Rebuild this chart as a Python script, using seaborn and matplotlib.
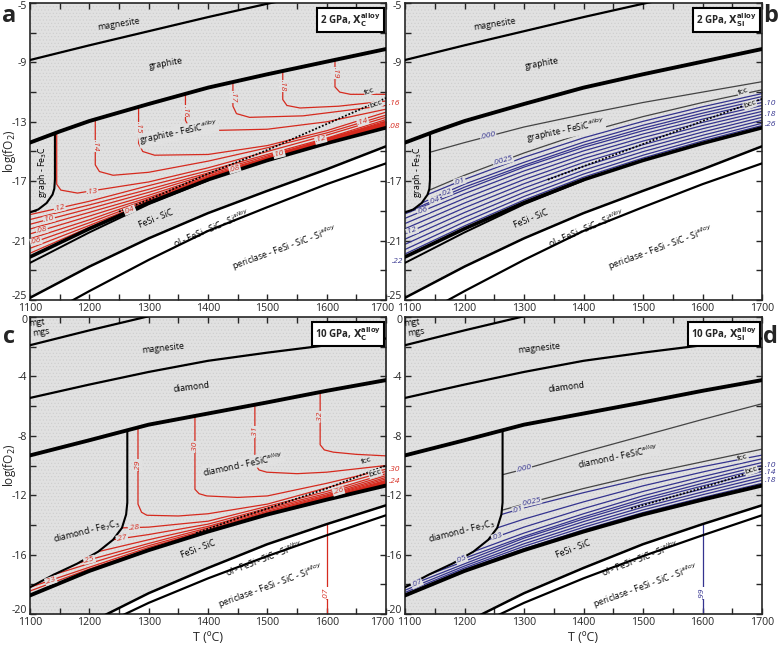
import matplotlib
matplotlib.use('Agg')
import matplotlib.pyplot as plt
import matplotlib.transforms as mtrans
import seaborn as sns

# ------------------------------------------------------------------ data
T7 = [1100, 1200, 1300, 1400, 1500, 1600, 1700]

# ---- 2 GPa phase boundaries (panels a, b)
p2_mgs = [-8.84, -7.85, -6.9, -5.95, -5.05, -4.2, -3.4]
p2_gr_T = [1100, 1150, 1200, 1300, 1400, 1500, 1600, 1700]
p2_gr = [-14.4, -13.65, -12.95, -11.8, -10.7, -9.8, -8.95, -8.1]
p2_fesi = [-22.1, -20.2, -18.45, -16.9, -15.6, -14.45, -13.4]
p2_fesi2_T = [1100, 1200, 1300, 1400]
p2_fesi2 = [-22.5, -20.45, -18.55, -16.95]
p2_ol = [-24.85, -22.75, -20.85, -19.15, -17.65, -16.2, -14.65]
p2_per = [-26.6, -24.4, -22.3, -20.35, -18.75, -17.2, -15.8]
p2_fe3c_T = [1142, 1142, 1141, 1138, 1128, 1114, 1100]
p2_fe3c = [-13.75, -16.9, -17.5, -17.9, -18.47, -18.9, -19.1]

# ---- panel a: X_C alloy contours (red)
a13_T = [1145, 1145, 1152, 1180, 1300, 1400, 1500, 1600, 1700]
a13 = [-13.72, -17.2, -17.6, -17.8, -17.05, -16.1, -15.0, -13.9, -12.7]
a14_T = [1210, 1210, 1217, 1240, 1300, 1400, 1500, 1600, 1700]
a14 = [-12.83, -15.9, -16.35, -16.6, -16.4, -15.65, -14.75, -13.75, -12.55]
a15_T = [1283, 1283, 1290, 1310, 1400, 1500, 1600, 1700]
a15 = [-11.99, -14.45, -15.0, -15.25, -15.2, -14.6, -13.6, -12.35]
a16_T = [1362, 1362, 1368, 1390, 1500, 1600, 1700]
a16 = [-11.12, -12.9, -13.35, -13.6, -13.5, -13.0, -12.15]
a17_T = [1442, 1442, 1448, 1470, 1560, 1700]
a17 = [-10.32, -11.95, -12.45, -12.7, -12.6, -11.9]
a18_T = [1526, 1526, 1533, 1555, 1620, 1700]
a18 = [-9.58, -11.5, -11.9, -12.07, -11.95, -11.6]
a19_T = [1614, 1614, 1622, 1640, 1700]
a19 = [-8.83, -10.65, -11.0, -11.15, -11.15]
a12 = [-19.25, -18.35, -17.3, -16.3, -15.2, -14.1, -12.85]
a11 = [-19.58, -18.6, -17.55, -16.45, -15.3, -14.18, -12.95]
a10 = [-19.9, -18.85, -17.75, -16.55, -15.4, -14.25, -13.05]
a09 = [-20.22, -19.1, -17.95, -16.65, -15.45, -14.3, -13.12]
a08 = [-20.55, -19.35, -18.1, -16.72, -15.5, -14.35, -13.2]
a07 = [-20.88, -19.6, -18.2, -16.78, -15.53, -14.38, -13.25]
a06 = [-21.2, -19.8, -18.3, -16.82, -15.55, -14.4, -13.3]
a05 = [-21.52, -19.98, -18.38, -16.85, -15.57, -14.42, -13.33]
a04 = [-21.85, -20.1, -18.42, -16.87, -15.58, -14.43, -13.36]
a_band_T = [1250, 1300, 1400, 1500, 1600, 1700]
a_band_lo = [-19.3, -18.45, -16.9, -15.6, -14.45, -13.4]
a_band_hi = [-19.2, -18.3, -16.68, -15.3, -14.05, -12.95]
a_fcc_T = [1250, 1300, 1400, 1500, 1600, 1700]
a_fcc = [-19.05, -18.25, -16.5, -14.9, -13.15, -11.4]

# ---- panel b: X_Si alloy contours (blue / grey)
b000_T = [1142, 1200, 1300, 1400, 1500, 1600, 1700]
b000 = [-15.05, -14.4, -13.35, -12.5, -11.7, -11.0, -10.3]
b0025_T = [1141, 1200, 1300, 1400, 1500, 1600, 1700]
b0025 = [-17.6, -16.6, -15.1, -13.75, -12.65, -11.7, -10.85]
b01_T = [1138, 1200, 1300, 1400, 1500, 1600, 1700]
b01 = [-17.9, -16.88, -15.39, -14.08, -12.97, -11.99, -11.1]
b02_T = [1128, 1200, 1300, 1400, 1500, 1600, 1700]
b02 = [-18.47, -17.2, -15.73, -14.37, -13.23, -12.22, -11.3]
b03_T = [1114, 1200, 1300, 1400, 1500, 1600, 1700]
b03 = [-18.9, -17.4, -15.93, -14.57, -13.43, -12.42, -11.5]
b04 = [-19.2, -17.58, -16.05, -14.72, -13.6, -12.6, -11.7]
b05 = [-19.5, -17.84, -16.31, -14.96, -13.82, -12.82, -11.9]
b06 = [-19.85, -18.16, -16.6, -15.22, -14.06, -13.04, -12.1]
b07 = [-20.2, -18.47, -16.89, -15.48, -14.3, -13.25, -12.3]
b08 = [-20.55, -18.79, -17.17, -15.74, -14.54, -13.47, -12.5]
b09 = [-20.9, -19.11, -17.46, -16.0, -14.77, -13.69, -12.7]
b10 = [-21.25, -19.43, -17.75, -16.26, -15.01, -13.91, -12.9]
b11 = [-21.6, -19.74, -18.03, -16.52, -15.25, -14.13, -13.1]
b12 = [-21.9, -20.01, -18.27, -16.73, -15.44, -14.29, -13.25]
b_fcc_T = [1340, 1400, 1500, 1600, 1700]
b_fcc = [-16.9, -16.0, -14.5, -12.95, -11.45]

# ---- 10 GPa phase boundaries (panels c, d)
p10_mgt_T = [1100, 1200, 1300, 1400]
p10_mgt = [-1.9, -0.9, 0.05, 0.9]
p10_mgs = [-5.45, -4.55, -3.7, -2.95, -2.4, -1.9, -1.45]
p10_dia = [-9.32, -8.3, -7.25, -6.5, -5.75, -4.97, -4.25]
p10_fesi = [-18.75, -17.1, -15.7, -14.45, -13.3, -12.3, -11.35]
p10_ol = [-22.8, -20.6, -18.6, -16.9, -15.3, -13.95, -12.68]
p10_per_T = [1250, 1300, 1400, 1500, 1600, 1700]
p10_per = [-20.2, -19.25, -17.6, -16.1, -14.7, -13.35]
p10_fe7c3_T = [1264, 1264, 1262, 1255, 1240, 1215, 1180, 1140, 1100]
p10_fe7c3 = [-7.63, -12.5, -13.3, -14.2, -15.0, -15.8, -16.6, -17.35, -18.2]

# ---- panel c: X_C alloy contours (red)
c29_T = [1282, 1282, 1288, 1297, 1350, 1400, 1500, 1600, 1700]
c29 = [-7.44, -12.6, -13.15, -13.35, -13.4, -13.25, -12.6, -11.5, -10.4]
c30_T = [1378, 1378, 1385, 1398, 1450, 1500, 1600, 1700]
c30 = [-6.67, -11.6, -11.9, -12.05, -12.15, -12.05, -11.2, -10.25]
c31_T = [1479, 1479, 1486, 1499, 1550, 1600, 1700]
c31 = [-5.91, -9.9, -10.3, -10.45, -10.55, -10.45, -10.0]
c32_T = [1589, 1589, 1596, 1611, 1650, 1700]
c32 = [-5.06, -8.6, -8.95, -9.1, -9.25, -9.35]
c28_T = [1255, 1300, 1400, 1500, 1600, 1700]
c28 = [-14.2, -14.15, -13.75, -12.75, -11.75, -10.55]
c27_T = [1240, 1300, 1400, 1500, 1600, 1700]
c27 = [-15.0, -14.65, -13.95, -12.88, -11.88, -10.68]
c26_T = [1215, 1300, 1400, 1500, 1600, 1700]
c26 = [-15.8, -15.0, -14.1, -12.98, -11.98, -10.8]
c25_T = [1180, 1200, 1300, 1400, 1500, 1600, 1700]
c25 = [-16.6, -16.35, -15.25, -14.2, -13.08, -12.05, -10.9]
c24_T = [1140, 1200, 1300, 1400, 1500, 1600, 1700]
c24 = [-17.35, -16.6, -15.4, -14.3, -13.15, -12.1, -11.0]
c23 = [-18.2, -16.85, -15.52, -14.36, -13.22, -12.15, -11.1]
c22 = [-18.45, -16.97, -15.62, -14.41, -13.27, -12.2, -11.2]
c_band_T = [1350, 1400, 1500, 1600, 1700]
c_band_lo = [-15.07, -14.45, -13.3, -12.3, -11.35]
c_band_hi = [-14.95, -14.35, -13.18, -12.15, -10.95]
c_fcc_T = [1380, 1450, 1500, 1600, 1700]
c_fcc = [-14.55, -13.55, -12.9, -11.55, -10.0]
c07_T = [1600, 1600]
c07 = [-13.95, -20.0]

# ---- panel d: X_Si alloy contours (blue / grey)
d000_T = [1264, 1300, 1400, 1500, 1600, 1700]
d000 = [-10.62, -10.25, -9.1, -8.0, -6.9, -5.84]
d0025_T = [1264, 1300, 1400, 1500, 1600, 1700]
d0025 = [-13.0, -12.6, -11.55, -10.6, -9.75, -8.9]
d01_T = [1262, 1300, 1400, 1500, 1600, 1700]
d01 = [-13.3, -12.85, -11.83, -10.89, -10.08, -9.3]
d02_T = [1255, 1300, 1400, 1500, 1600, 1700]
d02 = [-14.2, -13.61, -12.45, -11.37, -10.44, -9.55]
d03_T = [1240, 1300, 1400, 1500, 1600, 1700]
d03 = [-15.0, -14.15, -12.9, -11.75, -10.75, -9.8]
d04_T = [1215, 1300, 1400, 1500, 1600, 1700]
d04 = [-15.8, -14.55, -13.25, -12.04, -10.99, -10.0]
d05_T = [1180, 1200, 1300, 1400, 1500, 1600, 1700]
d05 = [-16.6, -16.25, -14.78, -13.46, -12.25, -11.2, -10.2]
d06_T = [1140, 1200, 1300, 1400, 1500, 1600, 1700]
d06 = [-17.35, -16.45, -14.89, -13.6, -12.41, -11.38, -10.4]
d07 = [-18.2, -16.62, -15.07, -13.78, -12.6, -11.58, -10.6]
d08 = [-18.4, -16.77, -15.27, -13.98, -12.8, -11.78, -10.8]
d09 = [-18.55, -16.9, -15.44, -14.16, -12.99, -11.97, -11.0]
d10 = [-18.68, -17.0, -15.6, -14.33, -13.17, -12.16, -11.2]
d_fcc_T = [1480, 1550, 1600, 1700]
d_fcc = [-12.9, -12.1, -11.5, -10.2]
d99_T = [1600, 1600]
d99 = [-13.95, -19.9]

# tick labels
x_ticks = [1100, 1200, 1300, 1400, 1500, 1600, 1700]
y_ticks_2 = [-5, -9, -13, -17, -21, -25]
y_ticks_10 = [0, -4, -8, -12, -16, -20]

# ------------------------------------------------------------------ style
sns.set_theme(style='ticks')
plt.rcParams['font.family'] = ['Open Sans', 'DejaVu Sans']
plt.rcParams['axes.unicode_minus'] = False
plt.rcParams['hatch.linewidth'] = 0.35

RED = '#d62a1e'
BLUE = '#34338f'
GREY = '#444444'
BG = '#e1e1e1'
RS = 6.3   # region label size
CS = 6.0   # contour label size

fig = plt.figure(figsize=(7.78, 6.45), dpi=100)
fig.patch.set_facecolor('white')
axA = fig.add_axes([30/778, 1-300/645, 356/778, 297/645])
axB = fig.add_axes([405/778, 1-300/645, 357/778, 297/645])
axC = fig.add_axes([30/778, 1-614/645, 356/778, 297/645])
axD = fig.add_axes([405/778, 1-614/645, 357/778, 297/645])


def line(ax, x, y, color='black', lw=1.0, ls='-', z=3):
    sns.lineplot(x=list(x), y=list(y), ax=ax, color=color, linewidth=lw,
                 linestyle=ls, sort=False, estimator=None, errorbar=None,
                 legend=False, zorder=z)


def lab(ax, x, y, s, color='black', rot=0, size=RS, bg=None, style='normal',
        weight='normal', z=6):
    bb = dict(boxstyle='square,pad=0.04', fc=bg, ec='none') if bg else None
    ax.text(x, y, s, color=color, rotation=rot, fontsize=size, ha='center',
            va='center', rotation_mode='anchor', zorder=z, bbox=bb,
            style=style, fontweight=weight)


def frame(ax, yt, ylim, ylabels=None):
    ax.set_xlim(1100, 1700)
    ax.set_ylim(*ylim)
    ax.set_xticks(x_ticks)
    ax.set_xticks(list(range(1100, 1701, 50)), minor=True)
    ax.set_yticks(yt)
    ax.set_yticks(list(range(int(ylim[0]), int(ylim[1]) + 1, 2)), minor=True)
    ax.set_yticklabels(ylabels if ylabels else [str(v) for v in yt])
    ax.tick_params(which='both', direction='in', top=True, right=True,
                   length=4.5, width=1.0, labelsize=7.6)
    ax.tick_params(axis='x', pad=2)
    ax.tick_params(axis='y', pad=2)
    for s in ax.spines.values():
        s.set_linewidth(1.2)
    ax.set_xlabel('')
    ax.set_ylabel('')
    ax.set_facecolor('white')


def background(ax, T, lower, top):
    ax.fill_between(T, lower, top, color=BG, lw=0, zorder=0)
    ax.fill_between(T, lower, top, facecolor='none', edgecolor='#cbcbcb',
                    hatch='.....', lw=0, zorder=0.5)


def boxlabel(ax, s):
    ax.text(0.985, 0.972, s, transform=ax.transAxes, ha='right', va='top',
            fontsize=7, fontweight='bold', zorder=7,
            bbox=dict(boxstyle='square,pad=0.3', fc='white', ec='black', lw=1.5))


def side(ax, s, yfrac, color, left=False):
    ax.text(-0.004 if left else 1.008, yfrac, s, transform=ax.transAxes,
            color=color, fontsize=6.0, style='italic', va='center',
            ha='right' if left else 'left')


def nudge(tick, dx_px, dy_px):
    tl = tick.label1
    tl.set_transform(tl.get_transform() +
                     mtrans.ScaledTranslation(dx_px / 100, dy_px / 100,
                                              fig.dpi_scale_trans))


# ------------------------------------------------------------------ 2 GPa
for ax, ylab in ((axA, None), (axB, ['-5', '-9', '', '-17', '-21', '-25'])):
    background(ax, T7, p2_ol, [0] * 7)
    line(ax, T7, p2_mgs, lw=1.6)
    line(ax, p2_gr_T, p2_gr, lw=2.8)
    line(ax, T7, p2_fesi, lw=2.6, z=4)
    line(ax, p2_fesi2_T, p2_fesi2, lw=1.4, z=4)
    line(ax, T7, p2_ol, lw=1.8)
    line(ax, T7, p2_per, lw=1.6)
    line(ax, p2_fe3c_T, p2_fe3c, lw=1.5)
    frame(ax, y_ticks_2, (-25, -5), ylab)
    lab(ax, 1250, -6.45, 'magnesite', rot=9)
    lab(ax, 1330, -9.1, 'graphite', rot=10)
    lab(ax, 1121, -16.4, 'graph - Fe$_3$C', rot=90)
    lab(ax, 1312, -19.55, 'FeSi - SiC', rot=22)
    lab(ax, 1405, -20.15, 'ol - FeSi - SiC - Si$^{alloy}$', rot=23)
    lab(ax, 1530, -21.5, 'periclase - FeSi - SiC - Si$^{alloy}$', rot=20)

# panel a contours
ax = axA
ax.fill_between(a_band_T, a_band_lo, a_band_hi, color=RED, lw=0, zorder=2)
for yv in (a12, a11, a10, a09, a08, a07, a06, a05, a04):
    line(ax, T7, yv, color=RED, lw=0.9, z=2)
for tv, yv in ((a13_T, a13), (a14_T, a14), (a15_T, a15), (a16_T, a16),
               (a17_T, a17), (a18_T, a18), (a19_T, a19)):
    line(ax, tv, yv, color=RED, lw=0.9, z=2)
line(ax, a_fcc_T, a_fcc, lw=1.3, ls=(0, (1, 1)), z=3)
lab(ax, 1350, -13.75, 'graphite - FeSiC$^{alloy}$', rot=12, bg=BG)
for s, x, y in (('.14', 1210, -14.6), ('.15', 1283, -13.4), ('.16', 1362, -12.3),
                ('.17', 1442, -11.3), ('.18', 1526, -10.6), ('.19', 1614, -9.7)):
    lab(ax, x, y, s, color=RED, rot=-90, size=CS, bg=BG, style='italic')
for s, x, y, r in (('.13', 1205, -17.7, 6), ('.12', 1150, -18.8, 14),
                   ('.10', 1132, -19.55, 14), ('.08', 1120, -20.3, 14),
                   ('.06', 1110, -21.05, 14), ('.04', 1268, -18.95, 22),
                   ('.14', 1661, -13.0, 16), ('.12', 1590, -14.2, 14),
                   ('.10', 1520, -15.17, 14), ('.08', 1445, -16.17, 16)):
    lab(ax, x, y, s, color=RED, rot=r, size=CS, bg=BG, style='italic')
lab(ax, 1672, -10.95, 'fcc', rot=20, size=CS, bg=BG)
lab(ax, 1683, -11.85, 'bcc', rot=20, size=CS, bg=BG)
for s, y in (('.16', -11.8), ('.08', -13.3)):
    side(ax, s, (y + 25) / 20, RED)
boxlabel(ax, '2 GPa, $\\mathbf{X_C^{alloy}}$')

# panel b contours
ax = axB
line(ax, b000_T, b000, color=GREY, lw=0.9, z=2)
line(ax, b0025_T, b0025, color=GREY, lw=0.9, z=2)
for tv, yv in ((b01_T, b01), (b02_T, b02), (b03_T, b03), (T7, b04), (T7, b05),
               (T7, b06), (T7, b07), (T7, b08), (T7, b09), (T7, b10),
               (T7, b11), (T7, b12)):
    line(ax, tv, yv, color=BLUE, lw=0.9, z=2)
line(ax, b_fcc_T, b_fcc, lw=1.3, ls=(0, (1, 1)), z=3)
lab(ax, 1370, -13.6, 'graphite - FeSiC$^{alloy}$', rot=12, bg=BG)
for s, x, y, r in (('.000', 1240, -13.98, 12), ('.0025', 1265, -15.63, 16),
                   ('.01', 1192, -17.01, 18), ('.02', 1170, -17.77, 18),
                   ('.04', 1150, -18.3, 18), ('.06', 1130, -19.0, 18),
                   ('.12', 1112, -20.35, 18)):
    lab(ax, x, y, s, color=BLUE, rot=r, size=CS, bg=BG, style='italic')
lab(ax, 1668, -11.0, 'fcc', rot=20, size=CS, bg=BG)
lab(ax, 1680, -11.85, 'bcc', rot=20, size=CS, bg=BG)
for s, y in (('.10', -11.75), ('.18', -12.48), ('.26', -13.15)):
    side(ax, s, (y + 25) / 20, BLUE)
side(ax, '.22', (-22.4 + 25) / 20, BLUE, left=True)
boxlabel(ax, '2 GPa, $\\mathbf{X_{Si}^{alloy}}$')

# ------------------------------------------------------------------ 10 GPa
for ax in (axC, axD):
    background(ax, T7, p10_ol, [2] * 7)
    line(ax, p10_mgt_T, p10_mgt, lw=1.6)
    line(ax, T7, p10_mgs, lw=1.6)
    line(ax, T7, p10_dia, lw=2.8)
    line(ax, T7, p10_fesi, lw=2.8, z=4)
    line(ax, T7, p10_ol, lw=1.8)
    line(ax, p10_per_T, p10_per, lw=1.6)
    line(ax, p10_fe7c3_T, p10_fe7c3, lw=1.5)
    frame(ax, y_ticks_10, (-20, 0))
    lab(ax, 1112, -0.35, 'mgt', rot=6)
    lab(ax, 1118, -1.05, 'mgs', rot=8)
    lab(ax, 1325, -2.1, 'magnesite', rot=6)
    lab(ax, 1372, -4.75, 'diamond', rot=7)
    lab(ax, 1195, -14.45, 'diamond - Fe$_7$C$_3$', rot=14)
    lab(ax, 1383, -15.65, 'FeSi - SiC', rot=21)
    lab(ax, 1495, -16.25, 'ol - FeSi - SiC - Si$^{alloy}$', rot=21)
    lab(ax, 1505, -18.15, 'periclase - FeSi - SiC - Si$^{alloy}$', rot=20)
    ax.set_xlabel('T (ºC)', fontsize=9, labelpad=2)

# panel c contours
ax = axC
ax.fill_between(c_band_T, c_band_lo, c_band_hi, color=RED, lw=0, zorder=2)
for tv, yv in ((c29_T, c29), (c30_T, c30), (c31_T, c31), (c32_T, c32),
               (c28_T, c28), (c27_T, c27), (c26_T, c26), (c25_T, c25),
               (c24_T, c24), (T7, c23), (T7, c22), (c07_T, c07)):
    line(ax, tv, yv, color=RED, lw=0.9, z=2)
line(ax, c_fcc_T, c_fcc, lw=1.3, ls=(0, (1, 1)), z=3)
lab(ax, 1459, -9.9, 'diamond - FeSiC$^{alloy}$', rot=12, bg=BG)
for s, x, y in (('.29', 1282, -9.97), ('.30', 1378, -8.73), ('.31', 1479, -7.72),
                ('.32', 1589, -6.71)):
    lab(ax, x, y, s, color=RED, rot=90, size=CS, bg=BG, style='italic')
lab(ax, 1600, -18.6, '.07', color=RED, rot=90, size=CS, bg='white', style='italic')
for s, x, y, r in (('.28', 1275, -14.18, 6), ('.27', 1255, -14.9, 12),
                   ('.25', 1200, -16.35, 14), ('.23', 1135, -17.75, 18),
                   ('.26', 1620, -11.74, 16)):
    lab(ax, x, y, s, color=RED, rot=r, size=CS, bg=BG, style='italic')
lab(ax, 1668, -9.7, 'fcc', rot=18, size=CS, bg=BG)
lab(ax, 1682, -10.55, 'bcc', rot=18, size=CS, bg=BG)
for s, y in (('.30', -10.26), ('.24', -11.09)):
    side(ax, s, (y + 20) / 20, RED)
boxlabel(ax, '10 GPa, $\\mathbf{X_C^{alloy}}$')

# panel d contours
ax = axD
line(ax, d000_T, d000, color=GREY, lw=0.9, z=2)
line(ax, d0025_T, d0025, color=GREY, lw=0.9, z=2)
for tv, yv in ((d01_T, d01), (d02_T, d02), (d03_T, d03), (d04_T, d04),
               (d05_T, d05), (d06_T, d06), (T7, d07), (T7, d08), (T7, d09),
               (T7, d10), (d99_T, d99)):
    line(ax, tv, yv, color=BLUE, lw=0.9, z=2)
line(ax, d_fcc_T, d_fcc, lw=1.3, ls=(0, (1, 1)), z=3)
lab(ax, 1458, -9.4, 'diamond - FeSiC$^{alloy}$', rot=12, bg=BG)
for s, x, y, r in (('.000', 1300, -10.25, 13), ('.0025', 1312, -12.45, 13),
                   ('.01', 1290, -12.97, 16), ('.03', 1255, -14.79, 20),
                   ('.05', 1195, -16.34, 22), ('.07', 1120, -17.95, 24)):
    lab(ax, x, y, s, color=BLUE, rot=r, size=CS, bg=BG, style='italic')
lab(ax, 1600, -18.6, '.99', color=BLUE, rot=90, size=CS, bg='white', style='italic')
lab(ax, 1668, -9.5, 'fcc', rot=18, size=CS, bg=BG)
lab(ax, 1682, -10.35, 'bcc', rot=18, size=CS, bg=BG)
for s, y in (('.10', -9.99), ('.14', -10.44), ('.18', -11.0)):
    side(ax, s, (y + 20) / 20, BLUE)
boxlabel(ax, '10 GPa, $\\mathbf{X_{Si}^{alloy}}$')

# keep neighbouring tick labels at the panel joints and corners apart
for ax in (axA, axC):
    nudge(ax.xaxis.get_major_ticks()[-1], -4, 0)
for ax in (axB, axD):
    nudge(ax.xaxis.get_major_ticks()[0], 4, 0)
for ax in (axA, axB, axC, axD):
    nudge(ax.yaxis.get_major_ticks()[-1], 0, 5)
    nudge(ax.yaxis.get_major_ticks()[0], 0, -2)

# axis labels and panel letters
for ax in (axA, axC):
    ax.set_ylabel('log(fO$_2$)', fontsize=8.5)
    ax.yaxis.set_label_coords(-0.034, 0.5)
for s, x, y in (('a', 0.012, 0.975), ('b', 0.99, 0.975), ('c', 0.012, 0.478),
                ('d', 0.99, 0.478)):
    fig.text(x, y, s, fontsize=17, fontweight='bold', ha='center', va='center')

fig.savefig('out.png', dpi=100)
